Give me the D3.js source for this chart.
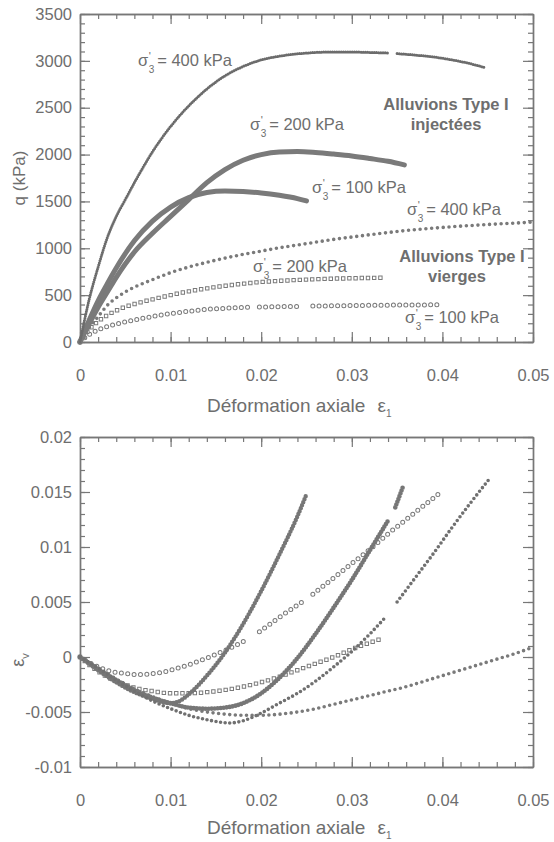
<!DOCTYPE html>
<html>
<head>
<meta charset="utf-8">
<script src="https://cdn.jsdelivr.net/npm/d3@7/dist/d3.min.js"></script>
<style>
  body { margin: 0; background: #fff; }
  text { font-family: "Liberation Sans", Arial, Helvetica, sans-serif; fill: #6e6e6e; }
</style>
</head>
<body>
<svg id="chart" width="554" height="842"></svg>
<script>
// ---- axes ----
const epsTicks = [0, 0.01, 0.02, 0.03, 0.04, 0.05];
const epsTickLabels = ["0", "0.01", "0.02", "0.03", "0.04", "0.05"];
const qTicks = [0, 500, 1000, 1500, 2000, 2500, 3000, 3500];
const qTickLabels = ["0", "500", "1000", "1500", "2000", "2500", "3000", "3500"];
const evTicks = [-0.01, -0.005, 0, 0.005, 0.01, 0.015, 0.02];
const evTickLabels = ["-0.01", "-0.005", "0", "0.005", "0.01", "0.015", "0.02"];

// ---- deviator stress q (kPa) vs axial strain; null marks a break in the record ----
const qInj400 = [[0,0],[0.001,450],[0.002,800],[0.003,1110],[0.004,1340],[0.005,1520],[0.006,1700],[0.007,1870],[0.008,2030],[0.010,2300],[0.012,2520],[0.014,2700],[0.016,2840],[0.018,2940],[0.020,3010],[0.022,3050],[0.024,3075],[0.026,3090],[0.028,3095],[0.030,3095],[0.032,3090],[0.034,3085],null,[0.035,3078],[0.037,3062],[0.039,3042],[0.041,3012],[0.043,2972],[0.0448,2925]];
const qInj200 = [[0,0],[0.001,190],[0.002,370],[0.003,530],[0.004,690],[0.006,960],[0.008,1160],[0.010,1340],[0.012,1520],[0.014,1700],[0.016,1840],[0.018,1940],[0.020,2000],[0.022,2028],[0.024,2032],[0.026,2022],[0.028,2005],[0.030,1985],[0.032,1958],[0.034,1928],[0.0358,1890]];
const qInj100 = [[0,0],[0.001,230],[0.002,440],[0.003,620],[0.004,790],[0.006,1080],[0.008,1290],[0.010,1440],[0.012,1540],[0.014,1595],[0.016,1610],[0.018,1605],[0.020,1590],[0.022,1565],[0.024,1530],[0.025,1505]];
const qVir400 = [[0,0],[0.001,150],[0.002,270],[0.003,390],[0.004,470],[0.005,535],[0.006,585],[0.008,665],[0.010,740],[0.012,800],[0.014,850],[0.016,895],[0.018,935],[0.020,970],[0.022,1005],[0.024,1035],[0.026,1065],[0.028,1095],[0.030,1120],[0.032,1145],[0.034,1168],[0.036,1190],[0.038,1207],[0.040,1222],[0.042,1236],[0.044,1248],[0.046,1259],[0.048,1269],[0.0498,1278]];
const qVir200 = [[0,0],[0.001,130],[0.002,220],[0.003,285],[0.004,335],[0.005,375],[0.006,405],[0.008,455],[0.010,500],[0.012,540],[0.014,572],[0.016,600],[0.018,622],[0.020,640],[0.022,652],[0.024,662],[0.026,670],[0.028,676],[0.030,680],[0.032,684],[0.0333,686]];
const qVir100 = [[0,0],[0.001,80],[0.002,130],[0.003,165],[0.004,192],[0.006,235],[0.008,272],[0.010,303],[0.012,328],[0.014,348],[0.016,360],[0.0185,370],null,[0.0198,373],[0.022,377],[0.0245,381],null,[0.0257,383],[0.028,386],[0.030,389],[0.032,391],[0.034,393],[0.036,395],[0.038,396],[0.040,397]];

// ---- volumetric strain vs axial strain ----
const evInj400 = [[0,0],[0.002,-0.0010],[0.004,-0.0021],[0.006,-0.0031],[0.008,-0.0040],[0.010,-0.0047],[0.012,-0.0053],[0.014,-0.0057],[0.0165,-0.0060],[0.018,-0.0058],[0.020,-0.0051],[0.022,-0.0042],[0.024,-0.0033],[0.026,-0.0022],[0.028,-0.0009],[0.030,0.0005],[0.032,0.0021],[0.0337,0.0036],null,[0.035,0.0050],[0.037,0.0072],[0.039,0.0094],[0.041,0.0117],[0.043,0.0139],[0.0451,0.0161]];
const evInj200 = [[0,0],[0.002,-0.0011],[0.004,-0.0021],[0.006,-0.0030],[0.008,-0.0037],[0.010,-0.0042],[0.012,-0.0046],[0.014,-0.0047],[0.016,-0.0046],[0.018,-0.0042],[0.020,-0.0033],[0.022,-0.0019],[0.024,-0.0001],[0.026,0.0021],[0.028,0.0045],[0.030,0.0070],[0.032,0.0097],[0.034,0.0124],null,[0.0348,0.0136],[0.0357,0.0156]];
const evInj100 = [[0,0],[0.002,-0.0012],[0.004,-0.0023],[0.006,-0.0032],[0.008,-0.0038],[0.010,-0.0042],[0.011,-0.0040],[0.012,-0.0034],[0.014,-0.0017],[0.016,0.0004],[0.018,0.0030],[0.020,0.0060],[0.022,0.0093],[0.024,0.0128],[0.025,0.0148]];
const evVir400 = [[0,0],[0.002,-0.0010],[0.004,-0.0020],[0.006,-0.0029],[0.008,-0.0036],[0.010,-0.0042],[0.012,-0.0047],[0.014,-0.0050],[0.016,-0.0052],[0.018,-0.0053],[0.020,-0.0053],[0.022,-0.0052],[0.024,-0.0050],[0.026,-0.0047],[0.028,-0.0043],[0.030,-0.0039],[0.032,-0.0035],[0.034,-0.0031],[0.036,-0.0027],[0.038,-0.0022],[0.040,-0.0017],[0.042,-0.0012],[0.044,-0.0007],[0.046,-0.0002],[0.048,0.0003],[0.050,0.0009]];
const evVir200 = [[0,0],[0.001,-0.0007],[0.002,-0.0013],[0.003,-0.0018],[0.004,-0.0022],[0.005,-0.0025],[0.006,-0.0028],[0.008,-0.0031],[0.010,-0.0033],[0.012,-0.0033],[0.014,-0.0032],[0.016,-0.0030],[0.018,-0.0027],[0.020,-0.0023],[0.022,-0.0018],[0.024,-0.0012],[0.026,-0.0006],[0.028,0.0000],[0.030,0.0007],[0.032,0.0013],[0.0334,0.0017]];
const evVir100 = [[0,0],[0.001,-0.0005],[0.002,-0.0009],[0.003,-0.0012],[0.004,-0.0014],[0.005,-0.0015],[0.006,-0.0016],[0.007,-0.0016],[0.008,-0.0015],[0.009,-0.0014],[0.010,-0.0012],[0.012,-0.0007],[0.014,-0.0001],[0.016,0.0006],[0.0185,0.0016],null,[0.0198,0.0023],[0.022,0.0036],[0.0245,0.0050],null,[0.0257,0.0057],[0.028,0.0072],[0.030,0.0085],[0.032,0.0098],[0.034,0.0112],[0.036,0.0125],[0.038,0.0138],[0.040,0.0151]];

const svg = d3.select("#chart");
const GREY = "#777";
const left = 80, right = 533;

const x = d3.scaleLinear().domain([0, 0.05]).range([left, right]);
const yQ = d3.scaleLinear().domain([0, 3500]).range([342, 14]);
const yEv = d3.scaleLinear().domain([-0.01, 0.02]).range([767, 437]);

function frame(y, majors, minors, labels) {
  const g = svg.append("g");
  const [y0, y1] = y.range();
  const styleAxis = sel => {
    sel.select(".domain").attr("stroke", GREY).attr("stroke-width", 1.4);
    sel.selectAll(".tick line").attr("stroke", GREY).attr("stroke-width", 1.2);
  };
  const xMinor = d3.range(0, 0.0501, 0.002);
  // bottom & top
  g.append("g").attr("transform", `translate(0,${y0})`)
    .call(d3.axisBottom(x).tickValues(xMinor).tickSize(-5).tickSizeOuter(0).tickFormat(""))
    .call(styleAxis);
  g.append("g").attr("transform", `translate(0,${y0})`)
    .call(d3.axisBottom(x).tickValues(epsTicks).tickSize(-10).tickSizeOuter(0)
      .tickFormat((d, i) => epsTickLabels[i]).tickPadding(27))
    .call(styleAxis)
    .call(s => s.selectAll("text").attr("font-size", 16.5).attr("fill", "#6e6e6e"));
  g.append("g").attr("transform", `translate(0,${y1})`)
    .call(d3.axisTop(x).tickValues(xMinor).tickSize(-5).tickSizeOuter(0).tickFormat(""))
    .call(styleAxis);
  g.append("g").attr("transform", `translate(0,${y1})`)
    .call(d3.axisTop(x).tickValues(epsTicks).tickSize(-10).tickSizeOuter(0).tickFormat(""))
    .call(styleAxis);
  // left & right
  g.append("g").attr("transform", `translate(${left},0)`)
    .call(d3.axisLeft(y).tickValues(minors).tickSize(-5).tickSizeOuter(0).tickFormat(""))
    .call(styleAxis);
  g.append("g").attr("transform", `translate(${left},0)`)
    .call(d3.axisLeft(y).tickValues(majors).tickSize(-10).tickSizeOuter(0)
      .tickFormat((d, i) => labels[i]).tickPadding(8))
    .call(styleAxis)
    .call(s => s.selectAll("text").attr("font-size", 16.5).attr("fill", "#6e6e6e"));
  g.append("g").attr("transform", `translate(${right},0)`)
    .call(d3.axisRight(y).tickValues(minors).tickSize(-5).tickSizeOuter(0).tickFormat(""))
    .call(styleAxis);
  g.append("g").attr("transform", `translate(${right},0)`)
    .call(d3.axisRight(y).tickValues(majors).tickSize(-10).tickSizeOuter(0).tickFormat(""))
    .call(styleAxis);
  g.selectAll("text").style("font-family", "'Liberation Sans', Arial, sans-serif");
}

frame(yQ, qTicks, d3.range(0, 3501, 100), qTickLabels);
frame(yEv, evTicks, d3.range(-10, 20.5, 1).map(v => v / 1000), evTickLabels);

// ---- series styles ----
function series(data, y, style) {
  const line = d3.line().defined(d => d).x(d => x(d[0])).y(d => y(d[1])).curve(d3.curveMonotoneX);
  const d = line(data);
  const g = svg.append("g");
  if (style.kind === "beads") {
    g.append("path").attr("d", d).attr("fill", "none").attr("stroke", style.color)
      .attr("stroke-width", style.w).attr("stroke-linecap", "round")
      .attr("stroke-dasharray", `0,${style.gap}`);
  } else if (style.kind === "solid") {
    g.append("path").attr("d", d).attr("fill", "none").attr("stroke", style.color)
      .attr("stroke-width", style.w).attr("stroke-linecap", "round").attr("stroke-linejoin", "round");
  } else {
    const cap = style.kind === "squares" ? "square" : "round";
    g.append("path").attr("d", d).attr("fill", "none").attr("stroke", style.color)
      .attr("stroke-width", style.w).attr("stroke-linecap", cap)
      .attr("stroke-dasharray", `0,${style.gap}`);
    g.append("path").attr("d", d).attr("fill", "none").attr("stroke", "#fff")
      .attr("stroke-width", style.w - 2).attr("stroke-linecap", cap)
      .attr("stroke-dasharray", `0,${style.gap}`);
  }
}

const DOT = "#7a7a7a";
// virgin alluvium
series(qVir100, yQ, { kind: "circles", color: DOT, w: 5, gap: 6.2 });
series(qVir200, yQ, { kind: "squares", color: DOT, w: 4.4, gap: 6.2 });
series(qVir400, yQ, { kind: "beads", color: DOT, w: 3.6, gap: 5.8 });
// grouted alluvium
series(qInj100, yQ, { kind: "solid", color: "#7a7a7a", w: 5 });
series(qInj200, yQ, { kind: "solid", color: "#7a7a7a", w: 5 });
series(qInj400, yQ, { kind: "beads", color: "#6c6c6c", w: 3, gap: 2.2 });

series(evVir100, yEv, { kind: "circles", color: DOT, w: 5, gap: 6.4 });
series(evVir200, yEv, { kind: "squares", color: DOT, w: 4.4, gap: 6.2 });
series(evVir400, yEv, { kind: "beads", color: DOT, w: 3.6, gap: 5.6 });
series(evInj100, yEv, { kind: "beads", color: "#767676", w: 4.4, gap: 3.2 });
series(evInj200, yEv, { kind: "beads", color: "#767676", w: 4.6, gap: 3 });
series(evInj400, yEv, { kind: "beads", color: "#707070", w: 3.6, gap: 4.6 });

// ---- annotations ----
function sigmaLabel(px, py, rest) {
  const g = svg.append("g").attr("transform", `translate(${px},${py})`);
  const s = g.append("text").attr("font-size", 16.5).text("σ");
  const w = s.node().getComputedTextLength();
  g.append("text").attr("x", w + 0.5).attr("y", -6).attr("font-size", 11).text("'");
  g.append("text").attr("x", w + 0.5).attr("y", 7).attr("font-size", 10).text("3");
  g.append("text").attr("x", w + 9).attr("font-size", 16.5).text(rest);
}
sigmaLabel(138, 66, "= 400 kPa");
sigmaLabel(250, 130, "= 200 kPa");
sigmaLabel(312, 193, "= 100 kPa");
sigmaLabel(407, 215, "= 400 kPa");
sigmaLabel(253, 272, "= 200 kPa");
sigmaLabel(405, 323, "= 100 kPa");

function bold(px, py, t) {
  svg.append("text").attr("x", px).attr("y", py).attr("text-anchor", "middle")
    .attr("font-size", 16.5).attr("font-weight", "bold").attr("fill", "#707070").text(t);
}
bold(446, 110, "Alluvions Type I");
bold(446, 130, "injectées");
bold(462, 262, "Alluvions Type I");
bold(457, 282, "vierges");

// ---- axis titles ----
function xTitle(py) {
  const t = svg.append("text").attr("x", 207).attr("y", py).attr("font-size", 19);
  t.append("tspan").text("Déformation axiale");
  t.append("tspan").attr("dx", 12).text("ε");
  t.append("tspan").attr("dy", 5).attr("font-size", 10).text("1");
}
xTitle(412);
xTitle(834);

svg.append("text").attr("transform", "translate(25,178) rotate(-90)")
  .attr("text-anchor", "middle").attr("font-size", 17).text("q (kPa)");
const ev = svg.append("text").attr("transform", "translate(24,660) rotate(-90)")
  .attr("text-anchor", "middle").attr("font-size", 18);
ev.append("tspan").text("ε");
ev.append("tspan").attr("dy", 5).attr("font-size", 11).text("v");
</script>
</body>
</html>
